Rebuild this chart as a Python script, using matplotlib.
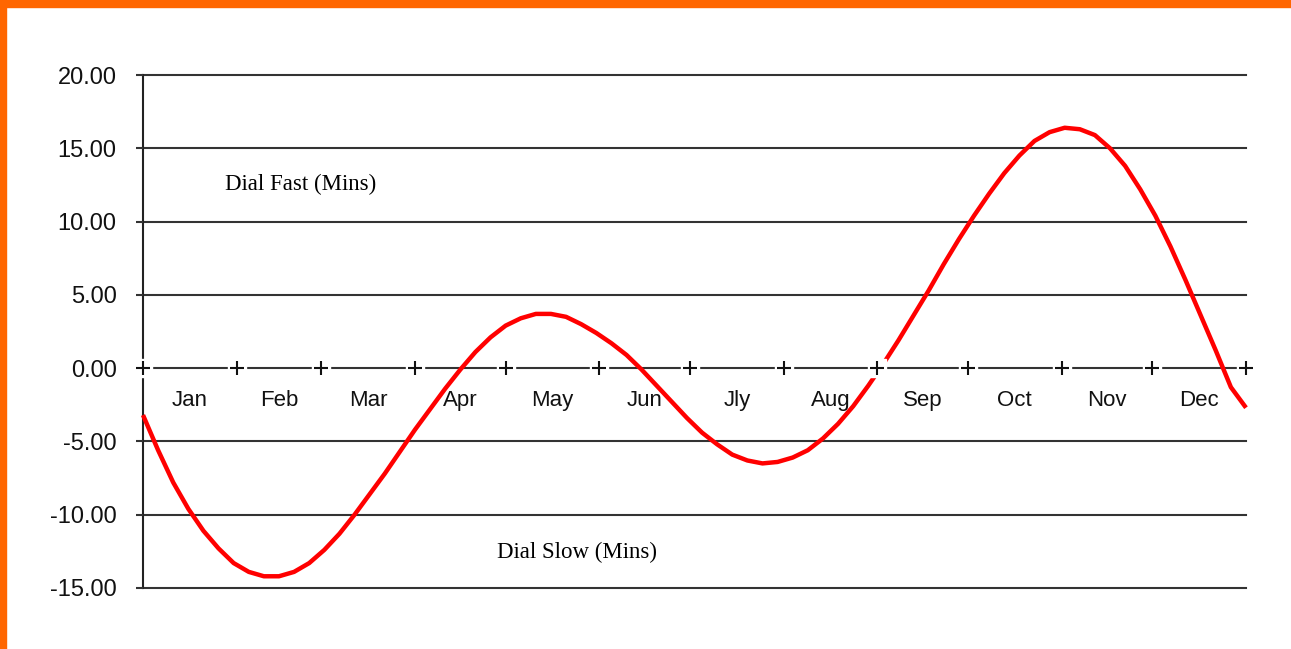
import matplotlib
matplotlib.use("Agg")
import matplotlib.pyplot as plt
from matplotlib.patches import Rectangle

# ---- data ----
day_of_year = [0, 5, 10, 15, 20, 25, 30, 35, 40, 45, 50, 55, 60, 65, 70, 75, 80, 85,
               90, 95, 100, 105, 110, 115, 120, 125, 130, 135, 140, 145, 150, 155,
               160, 165, 170, 175, 180, 185, 190, 195, 200, 205, 210, 215, 220, 225,
               230, 235, 240, 245, 250, 255, 260, 265, 270, 275, 280, 285, 290, 295,
               300, 305, 310, 315, 320, 325, 330, 335, 340, 345, 350, 355, 360, 365]
eot_minutes = [-3.2, -5.6, -7.8, -9.6, -11.1, -12.3, -13.3, -13.9, -14.2, -14.2, -13.9,
               -13.3, -12.4, -11.3, -10.0, -8.6, -7.2, -5.7, -4.2, -2.8, -1.4, -0.1,
               1.1, 2.1, 2.9, 3.4, 3.7, 3.7, 3.5, 3.0, 2.4, 1.7, 0.9, -0.1, -1.2,
               -2.3, -3.4, -4.4, -5.2, -5.9, -6.3, -6.5, -6.4, -6.1, -5.6, -4.8,
               -3.8, -2.6, -1.2, 0.3, 1.9, 3.6, 5.3, 7.1, 8.8, 10.4, 11.9, 13.3,
               14.5, 15.5, 16.1, 16.4, 16.3, 15.9, 15.0, 13.8, 12.2, 10.4, 8.3,
               6.0, 3.6, 1.2, -1.3, -2.7]
month_bounds = [0, 31, 59, 90, 120, 151, 181, 212, 243, 273, 304, 334, 365]
month_labels = ["Jan", "Feb", "Mar", "Apr", "May", "Jun",
                "Jly", "Aug", "Sep", "Oct", "Nov", "Dec"]
y_ticks = [-15, -10, -5, 0, 5, 10, 15, 20]
label_fast = "Dial Fast (Mins)"
label_slow = "Dial Slow (Mins)"

# ---- figure ----
fig = plt.figure(figsize=(12.91, 6.49), dpi=100)
fig.patch.set_facecolor("white")
orange = "#FF6600"
fig.patches.append(Rectangle((0, 1 - 7 / 649), 1, 7 / 649, transform=fig.transFigure,
                             color=orange, zorder=0))
fig.patches.append(Rectangle((0, 0), 6 / 1291, 1, transform=fig.transFigure,
                             color=orange, zorder=0))

ax = fig.add_axes([143 / 1291, 1 - 588 / 649, (1246 - 143) / 1291, (588 - 75) / 649])
ax.set_xlim(month_bounds[0], month_bounds[-1])
ax.set_ylim(min(y_ticks), max(y_ticks))

grid_col = "#333333"
for yv in y_ticks:
    ax.axhline(yv, color=grid_col, lw=1.5, zorder=1, clip_on=False)

for s in ["top", "right", "bottom"]:
    ax.spines[s].set_visible(False)
ax.spines["left"].set_color("#222222")
ax.spines["left"].set_linewidth(1.5)
ax.spines["left"].set_zorder(1)

ax.set_xticks([])
ax.set_yticks(y_ticks)
ax.set_yticklabels([f"{v:.2f}" for v in y_ticks], fontfamily="Liberation Sans",
                   fontsize=17, color="#111111")
ax.tick_params(axis="y", length=5, width=1.5, color=grid_col, pad=14)

# curve
ax.plot(day_of_year, eot_minutes, color="#FF0000", lw=3.2, zorder=3,
        solid_capstyle="butt", clip_on=False)

# month boundary "+" ticks on the zero line
zeros = [0] * len(month_bounds)
ax.plot(month_bounds, zeros, linestyle="none", marker="s", ms=13.5,
        mfc="white", mec="white", zorder=5, clip_on=False)
ax.plot(month_bounds, zeros, linestyle="none", marker="+", ms=10.5,
        mew=1.5, color="#111111", zorder=6, clip_on=False)

# month labels
for i, name in enumerate(month_labels):
    xm = (month_bounds[i] + month_bounds[i + 1]) / 2
    ax.text(xm, -2.2, name, ha="center", va="center", fontfamily="Liberation Sans",
            fontsize=16, color="#111111", zorder=2)

ax.text(52, 12.5, label_fast, ha="center", va="center", fontfamily="Liberation Serif",
        fontsize=16.5, color="black", zorder=2)
ax.text(143.5, -12.55, label_slow, ha="center", va="center",
        fontfamily="Liberation Serif", fontsize=16.5, color="black", zorder=2)

fig.savefig("out.png", dpi=100, facecolor="white")
